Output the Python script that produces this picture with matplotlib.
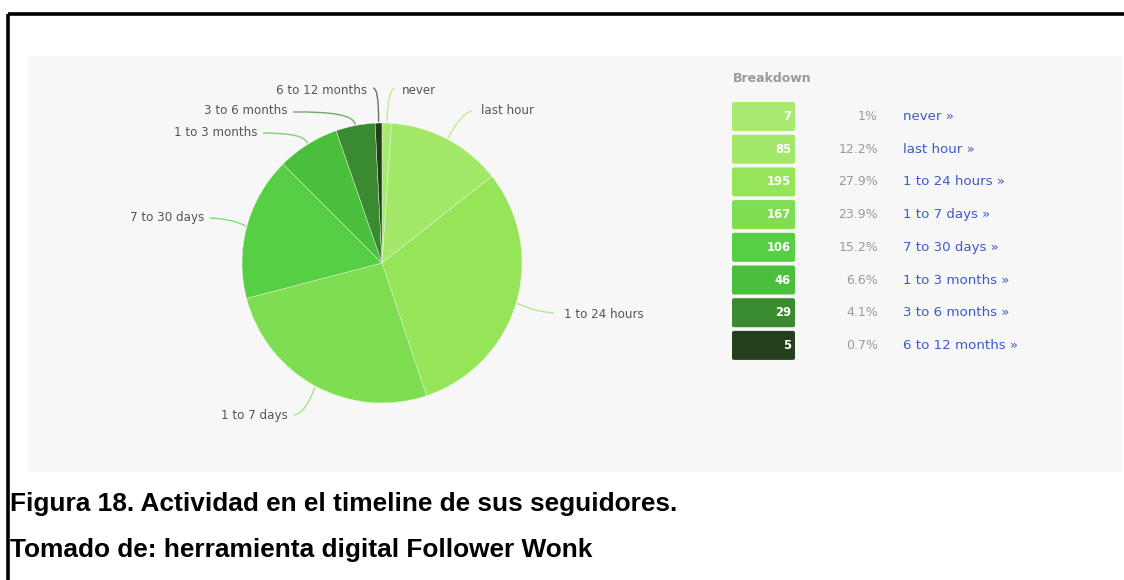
import matplotlib
matplotlib.use("Agg")
import matplotlib.pyplot as plt
from matplotlib import font_manager as fm
from matplotlib.patches import Rectangle, FancyBboxPatch, PathPatch
from matplotlib.path import Path
import numpy as np

# ---- data ----
categories = ["never", "last hour", "1 to 24 hours", "1 to 7 days", "7 to 30 days",
              "1 to 3 months", "3 to 6 months", "6 to 12 months"]
counts = [7, 85, 195, 167, 106, 46, 29, 5]
percent_labels = ["1%", "12.2%", "27.9%", "23.9%", "15.2%", "6.6%", "4.1%", "0.7%"]
slice_colors = ["#a8ea6f", "#a3e869", "#96e558", "#7edd51", "#56cf45",
                "#4abf3b", "#3a8a2f", "#23401d"]

caption_1 = "Figura 18. Actividad en el timeline de sus seguidores."
caption_2 = "Tomado de: herramienta digital Follower Wonk"

W, H = 1124, 580


def Y(y):
    """Convert a top-down pixel row into the axes' bottom-up coordinate."""
    return H - y


def caption_props(size):
    """Bold Liberation Sans at regular width (skip the Narrow variant)."""
    for f in fm.fontManager.ttflist:
        if (f.name == "Liberation Sans" and f.weight in (700, "bold")
                and "narrow" not in f.fname.lower() and f.style == "normal"):
            return fm.FontProperties(fname=f.fname, size=size)
    return fm.FontProperties(family="DejaVu Sans", weight="bold", size=size)


fig = plt.figure(figsize=(W / 100, H / 100), dpi=100)
fig.patch.set_facecolor("white")
ax = fig.add_axes([0, 0, 1, 1])

# ---- pie ----
cx, cy, R = 382, 263, 140
wedges, _ = ax.pie(counts, colors=slice_colors, startangle=90, counterclock=False,
                   center=(cx, Y(cy)), radius=R,
                   wedgeprops=dict(edgecolor="#eef7e6", linewidth=0.3))
for w in wedges:
    w.set_zorder(3)

ax.set_xlim(0, W)
ax.set_ylim(0, H)
ax.set_aspect("equal")
ax.axis("off")

# light grey panel behind the chart
ax.add_patch(Rectangle((28, Y(472)), 1094, 416, facecolor="#f7f7f7",
                       edgecolor="none", zorder=0))

# frame lines (top and left)
ax.plot([8, W], [Y(14), Y(14)], color="black", lw=2.6, solid_capstyle="butt", zorder=1)
ax.plot([8, 8], [Y(14), 0], color="black", lw=2.6, solid_capstyle="butt", zorder=1)

# ---- data labels with curved connectors ----
# text x, text y, alignment, connector end, connector control point
label_layout = {
    "never":          (402, 91, "left", (395, 88), (388, 89)),
    "last hour":      (481, 111, "left", (472, 111), (461, 113)),
    "1 to 24 hours":  (564, 314, "left", (554, 313), (536, 312)),
    "1 to 7 days":    (288, 416, "right", (294, 415), (306, 413)),
    "7 to 30 days":   (204, 218, "right", (210, 218), (233, 219)),
    "1 to 3 months":  (257, 133, "right", (263, 133), (306, 133)),
    "3 to 6 months":  (287, 111, "right", (293, 112), (354, 111)),
    "6 to 12 months": (367, 91, "right", (373, 88), (379, 88)),
}

label_font = dict(family="DejaVu Sans", size=8.6, color="#555555")
for w, name, col in zip(wedges, categories, slice_colors):
    mid = np.deg2rad((w.theta1 + w.theta2) / 2.0)
    ax0 = w.center[0] + (w.r + 1) * np.cos(mid)
    ay0 = w.center[1] + (w.r + 1) * np.sin(mid)
    tx, ty, ha, end, ctrl = label_layout[name]
    verts = [(ax0, ay0), (ctrl[0], Y(ctrl[1])), (end[0], Y(end[1]))]
    path = Path(verts, [Path.MOVETO, Path.CURVE3, Path.CURVE3])
    ax.add_patch(PathPatch(path, facecolor="none", edgecolor=col, lw=1.0,
                           alpha=0.7, zorder=2))
    ax.text(tx, Y(ty), name, ha=ha, va="center", zorder=4, **label_font)

# ---- breakdown table ----
ax.text(733, Y(78), "Breakdown", ha="left", va="center", fontsize=9.0,
        fontweight="bold", color="#9a9a9a", family="DejaVu Sans")

row_top, row_pitch, box_h = 102, 32.7, 29
box_x, box_w = 732, 63
for i, (name, n, pct, col) in enumerate(zip(categories, counts, percent_labels, slice_colors)):
    top = row_top + i * row_pitch
    yc = top + box_h / 2
    ax.add_patch(FancyBboxPatch((box_x + 2, Y(top + box_h) + 2), box_w - 4, box_h - 4,
                                boxstyle="round,pad=2", facecolor=col,
                                edgecolor="none", zorder=2))
    ax.text(791, Y(yc), str(n), ha="right", va="center", fontsize=8.4,
            fontweight="bold", color="white", family="DejaVu Sans", zorder=3)
    ax.text(878, Y(yc), pct, ha="right", va="center", fontsize=9.0,
            color="#9a9a9a", family="DejaVu Sans")
    ax.text(903, Y(yc), name + " \u00bb", ha="left", va="center", fontsize=9.6,
            color="#3f5acb", family="DejaVu Sans")

# ---- caption ----
cap_fp = caption_props(18.9)
ax.text(10, Y(511.5), caption_1, ha="left", va="baseline", fontproperties=cap_fp, color="black")
ax.text(10, Y(556.5), caption_2, ha="left", va="baseline", fontproperties=cap_fp, color="black")

fig.savefig("out.png", dpi=100, facecolor="white")
